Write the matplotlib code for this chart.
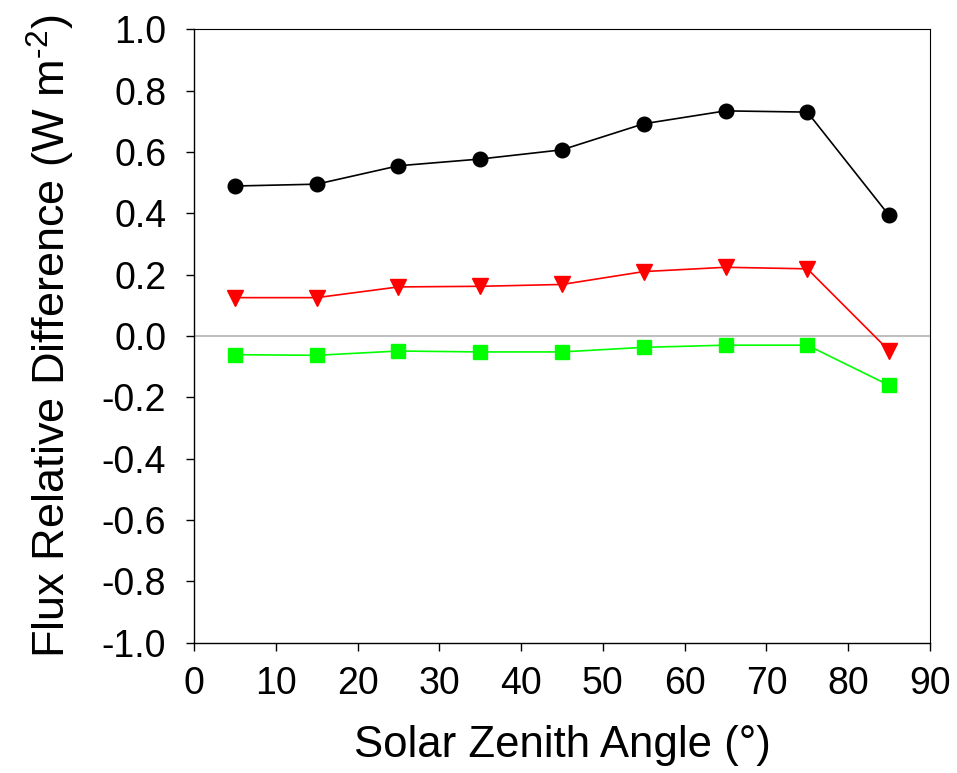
import numpy as np
import matplotlib.pyplot as plt

plt.rcParams['font.family'] = ['Liberation Sans', 'DejaVu Sans']
plt.rcParams['mathtext.fontset'] = 'custom'
plt.rcParams['mathtext.rm'] = 'Liberation Sans'
plt.rcParams['mathtext.default'] = 'regular'

# solar zenith angle (deg)
sza = [5, 15, 25, 35, 45, 55, 65, 75, 85]

# flux relative difference (W m-2)
black_vals = [0.489, 0.495, 0.555, 0.577, 0.607, 0.692, 0.734, 0.730, 0.393]
red_vals = [0.125, 0.125, 0.160, 0.162, 0.168, 0.210, 0.224, 0.219, -0.048]
green_vals = [-0.061, -0.063, -0.049, -0.052, -0.052, -0.037, -0.030, -0.030, -0.161]

xticks = np.arange(0, 91, 10)
yticks = np.round(np.arange(-1.0, 1.01, 0.2), 1) + 0.0

fig = plt.figure(figsize=(9.57, 7.73), dpi=100)
ax = fig.add_axes([0.2027, 0.1686, 0.7691, 0.7935])

ax.axhline(0, color='#c0c0c0', lw=1.5, zorder=1)

ax.plot(sza, black_vals, color='black', lw=1.2, marker='o', ms=10.5, zorder=3)
ax.plot(sza, red_vals, color='#ff0000', lw=1.2, marker='v', ms=12, zorder=3)
ax.plot(sza, green_vals, color='#00ff00', lw=1.2, marker='s', ms=10, zorder=3)

ax.set_xlim(0, 90)
ax.set_ylim(-1.0, 1.0)
ax.set_xticks(xticks)
ax.set_yticks(yticks)
ax.set_yticklabels(['%.1f' % v for v in yticks])
ax.tick_params(direction='out', length=6, width=1, labelsize=27,
               top=False, right=False)
ax.tick_params(axis='y', pad=14)
ax.tick_params(axis='x', pad=11)

for s in ['left', 'bottom']:
    ax.spines[s].set_linewidth(1.0)
for s in ['top', 'right']:
    ax.spines[s].set_linewidth(0.8)

ax.set_xlabel('Solar Zenith Angle (°)', fontsize=31.5, labelpad=16)
ax.set_ylabel(r'Flux Relative Difference (W m$^{\text{-2}}$)', fontsize=32.5, labelpad=18)

fig.savefig('out.png', dpi=100)
